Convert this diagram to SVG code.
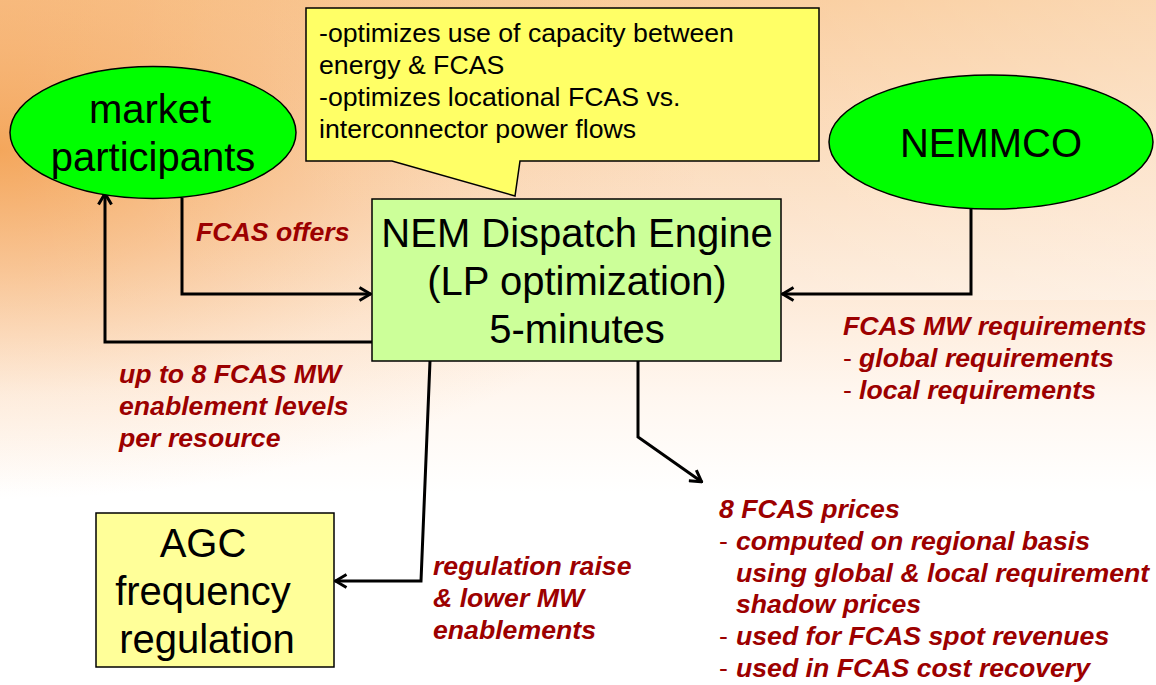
<svg xmlns="http://www.w3.org/2000/svg" width="1156" height="685" viewBox="0 0 1156 685">
  <defs>
    <linearGradient id="bgBase" x1="0" y1="0" x2="0" y2="1">
      <stop offset="0" stop-color="#F9C792"/>
      <stop offset="0.3" stop-color="#FCDFC3"/>
      <stop offset="0.58" stop-color="#FFF7F0"/>
      <stop offset="0.72" stop-color="#FFFFFF"/>
      <stop offset="1" stop-color="#FFFFFF"/>
    </linearGradient>
    <radialGradient id="bgGlow" cx="0" cy="150" r="700" gradientUnits="userSpaceOnUse" gradientTransform="translate(0,150) scale(1,0.5) translate(0,-150)">
      <stop offset="0" stop-color="#F29A45" stop-opacity="0.8"/>
      <stop offset="0.35" stop-color="#F4A45A" stop-opacity="0.5"/>
      <stop offset="0.7" stop-color="#F6B070" stop-opacity="0.15"/>
      <stop offset="1" stop-color="#F6B070" stop-opacity="0"/>
    </radialGradient>
    <linearGradient id="bgFade" x1="0" y1="0" x2="1" y2="0">
      <stop offset="0" stop-color="#FFFFFF" stop-opacity="0"/>
      <stop offset="0.6" stop-color="#FFFFFF" stop-opacity="0.1"/>
      <stop offset="1" stop-color="#FFFFFF" stop-opacity="0.3"/>
    </linearGradient>
    <marker id="arrow" viewBox="0 0 14 16" refX="13" refY="8" markerWidth="14" markerHeight="16" markerUnits="userSpaceOnUse" orient="auto">
      <path d="M1.5,1.5 L12.5,8 L1.5,14.5" fill="none" stroke="#000" stroke-width="3" stroke-linejoin="miter"/>
    </marker>
  </defs>
  <style>
    .big { font-family: "Liberation Sans", Arial, sans-serif; font-size: 40px; fill: #000; }
    .call { font-family: "Liberation Sans", Arial, sans-serif; font-size: 26.67px; fill: #000; }
    .lbl { font-family: "Liberation Sans", Arial, sans-serif; font-size: 26.67px; font-weight: bold; font-style: italic; fill: #9C0000; }
    .dash { font-weight: normal; font-style: normal; }
    .ell { fill: #00FF00; stroke: #000; stroke-width: 1.5; }
    .link { fill: none; stroke: #000; stroke-width: 3; marker-end: url(#arrow); }
  </style>

  <!-- backdrop -->
  <rect width="1156" height="685" fill="url(#bgBase)"/>
  <rect width="1156" height="685" fill="url(#bgGlow)"/>
  <rect width="1156" height="300" fill="url(#bgFade)"/>

  <!-- connectors -->
  <g id="connectors">
    <path class="link" d="M182,198 V294 H371"/>
    <path class="link" d="M372,342 H105 V193"/>
    <path class="link" d="M971,208 V294 H782"/>
    <path class="link" d="M430,361 L421,581 H335"/>
    <path class="link" d="M638,361 V437 L702,482"/>
  </g>

  <!-- callout -->
  <g id="callout">
    <path d="M306,8 H819 V161 H520 L515,196 L392,161 H306 Z" fill="#FFFF66" stroke="#000" stroke-width="1.5"/>
    <text class="call" x="319" y="42">-optimizes use of capacity between</text>
    <text class="call" x="319" y="74">energy &amp; FCAS</text>
    <text class="call" x="319" y="106">-optimizes locational FCAS vs.</text>
    <text class="call" x="319" y="138">interconnector power flows</text>
  </g>

  <g id="market-participants">
    <ellipse class="ell" cx="153" cy="132.5" rx="143" ry="66"/>
    <text class="big" x="150" y="123" text-anchor="middle">market</text>
    <text class="big" x="153" y="171" text-anchor="middle">participants</text>
  </g>

  <g id="nemmco">
    <ellipse class="ell" cx="991" cy="142" rx="162" ry="67"/>
    <text class="big" x="991" y="157" text-anchor="middle">NEMMCO</text>
  </g>

  <g id="dispatch-engine">
    <rect x="372" y="199" width="409" height="162" fill="#CCFF99" stroke="#000" stroke-width="1.5"/>
    <text class="big" x="577" y="247" text-anchor="middle">NEM Dispatch Engine</text>
    <text class="big" x="577" y="295" text-anchor="middle">(LP optimization)</text>
    <text class="big" x="577" y="343" text-anchor="middle">5-minutes</text>
  </g>

  <g id="agc">
    <rect x="96" y="513" width="238" height="154" fill="#FFFF99" stroke="#000" stroke-width="1.5"/>
    <text class="big" x="203" y="557" text-anchor="middle">AGC</text>
    <text class="big" x="203" y="605" text-anchor="middle">frequency</text>
    <text class="big" x="207" y="653" text-anchor="middle">regulation</text>
  </g>

  <!-- connector labels -->
  <g id="labels">
    <text class="lbl" x="196" y="241">FCAS offers</text>
    <text class="lbl" x="119" y="383">up to 8 FCAS MW</text>
    <text class="lbl" x="119" y="415">enablement levels</text>
    <text class="lbl" x="119" y="447">per resource</text>

    <text class="lbl" x="843" y="335">FCAS MW requirements</text>
    <text class="lbl" y="367"><tspan class="dash" x="843">-</tspan><tspan x="859">global requirements</tspan></text>
    <text class="lbl" y="399"><tspan class="dash" x="843">-</tspan><tspan x="859">local requirements</tspan></text>

    <text class="lbl" x="433" y="575">regulation raise</text>
    <text class="lbl" x="433" y="607">&amp; lower MW</text>
    <text class="lbl" x="433" y="639">enablements</text>

    <text class="lbl" x="719" y="518">8 FCAS prices</text>
    <text class="lbl" y="550"><tspan class="dash" x="719">-</tspan><tspan x="736">computed on regional basis</tspan></text>
    <text class="lbl" x="736" y="582">using global &amp; local requirement</text>
    <text class="lbl" x="736" y="613">shadow prices</text>
    <text class="lbl" y="645"><tspan class="dash" x="719">-</tspan><tspan x="736">used for FCAS spot revenues</tspan></text>
    <text class="lbl" y="677"><tspan class="dash" x="719">-</tspan><tspan x="736">used in FCAS cost recovery</tspan></text>
  </g>
</svg>
